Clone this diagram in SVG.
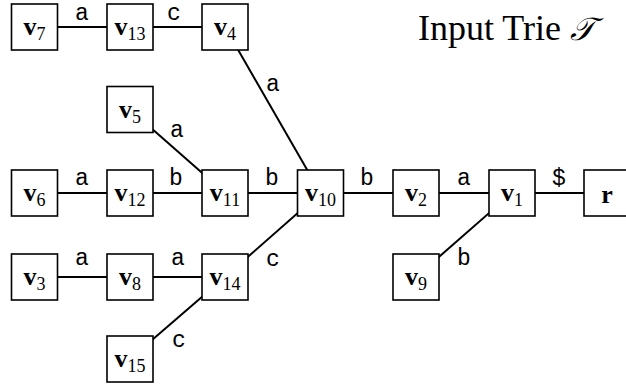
<svg xmlns="http://www.w3.org/2000/svg" width="626" height="385" viewBox="0 0 626 385">
<style>
.box{fill:#fff;stroke:#000;stroke-width:1.6}
.edge{stroke:#000;stroke-width:2;fill:none}
.nl{font-family:"Liberation Serif",serif;font-size:26px;text-anchor:middle;fill:#000}
.nl .v{font-weight:bold}
.nl .s{font-size:18px}
.el{font-family:"Liberation Mono","Courier New",monospace;font-size:23px;text-anchor:middle;fill:#000}
.title{font-family:"Liberation Serif",serif;font-size:36px;fill:#000}
</style>
<rect width="626" height="385" fill="#fff"/>
<g id="connectors">
<line class="edge" x1="34.5" y1="27" x2="130" y2="27"/>
<line class="edge" x1="130" y1="27" x2="225" y2="27"/>
<line class="edge" x1="225" y1="27" x2="320.5" y2="193"/>
<line class="edge" x1="130" y1="109.5" x2="225" y2="193"/>
<line class="edge" x1="34.5" y1="193" x2="607" y2="193"/>
<line class="edge" x1="512" y1="193" x2="416" y2="277"/>
<line class="edge" x1="320.5" y1="193" x2="225" y2="277"/>
<line class="edge" x1="34.5" y1="277" x2="225" y2="277"/>
<line class="edge" x1="225" y1="277" x2="130" y2="359"/>
<text class="el" x="82" y="19.5">a</text>
<text class="el" x="174" y="19.5">c</text>
<text class="el" x="273" y="91">a</text>
<text class="el" x="177" y="137">a</text>
<text class="el" x="82" y="185">a</text>
<text class="el" x="176" y="185">b</text>
<text class="el" x="272" y="185">b</text>
<text class="el" x="367" y="185">b</text>
<text class="el" x="464" y="185">a</text>
<text class="el" x="559" y="185">$</text>
<text class="el" x="464" y="265">b</text>
<text class="el" x="82" y="265">a</text>
<text class="el" x="178" y="265">a</text>
<text class="el" x="273" y="266">c</text>
<text class="el" x="179" y="347">c</text>
</g>
<g id="v7"><rect class="box" x="11.5" y="4" width="46" height="46"/><text class="nl" x="34.5" y="35"><tspan class="v">v</tspan><tspan class="s" dy="5">7</tspan></text></g>
<g id="v13"><rect class="box" x="107" y="4" width="46" height="46"/><text class="nl" x="130" y="35"><tspan class="v">v</tspan><tspan class="s" dy="5">13</tspan></text></g>
<g id="v4"><rect class="box" x="202" y="4" width="46" height="46"/><text class="nl" x="225" y="35"><tspan class="v">v</tspan><tspan class="s" dy="5">4</tspan></text></g>
<g id="v5"><rect class="box" x="107" y="86.5" width="46" height="46"/><text class="nl" x="130" y="117.5"><tspan class="v">v</tspan><tspan class="s" dy="5">5</tspan></text></g>
<g id="v6"><rect class="box" x="11.5" y="170" width="46" height="46"/><text class="nl" x="34.5" y="201"><tspan class="v">v</tspan><tspan class="s" dy="5">6</tspan></text></g>
<g id="v12"><rect class="box" x="107" y="170" width="46" height="46"/><text class="nl" x="130" y="201"><tspan class="v">v</tspan><tspan class="s" dy="5">12</tspan></text></g>
<g id="v11"><rect class="box" x="202" y="170" width="46" height="46"/><text class="nl" x="225" y="201"><tspan class="v">v</tspan><tspan class="s" dy="5">11</tspan></text></g>
<g id="v10"><rect class="box" x="297.5" y="170" width="46" height="46"/><text class="nl" x="320.5" y="201"><tspan class="v">v</tspan><tspan class="s" dy="5">10</tspan></text></g>
<g id="v2"><rect class="box" x="393" y="170" width="46" height="46"/><text class="nl" x="416" y="201"><tspan class="v">v</tspan><tspan class="s" dy="5">2</tspan></text></g>
<g id="v1"><rect class="box" x="489" y="170" width="46" height="46"/><text class="nl" x="512" y="201"><tspan class="v">v</tspan><tspan class="s" dy="5">1</tspan></text></g>
<g id="r"><rect class="box" x="584" y="170" width="46" height="46"/><text class="nl" x="607" y="203"><tspan class="v">r</tspan></text></g>
<g id="v3"><rect class="box" x="11.5" y="254" width="46" height="46"/><text class="nl" x="34.5" y="285"><tspan class="v">v</tspan><tspan class="s" dy="5">3</tspan></text></g>
<g id="v8"><rect class="box" x="107" y="254" width="46" height="46"/><text class="nl" x="130" y="285"><tspan class="v">v</tspan><tspan class="s" dy="5">8</tspan></text></g>
<g id="v14"><rect class="box" x="202" y="254" width="46" height="46"/><text class="nl" x="225" y="285"><tspan class="v">v</tspan><tspan class="s" dy="5">14</tspan></text></g>
<g id="v9"><rect class="box" x="393" y="254" width="46" height="46"/><text class="nl" x="416" y="285"><tspan class="v">v</tspan><tspan class="s" dy="5">9</tspan></text></g>
<g id="v15"><rect class="box" x="107" y="336" width="46" height="46"/><text class="nl" x="130" y="367"><tspan class="v">v</tspan><tspan class="s" dy="5">15</tspan></text></g>
<g id="title"><text class="title" x="418" y="40">Input Trie <tspan font-family="'DejaVu Serif','DejaVu Sans','Noto Sans',serif" font-style="italic" font-size="32">𝒯</tspan></text></g>
</svg>
